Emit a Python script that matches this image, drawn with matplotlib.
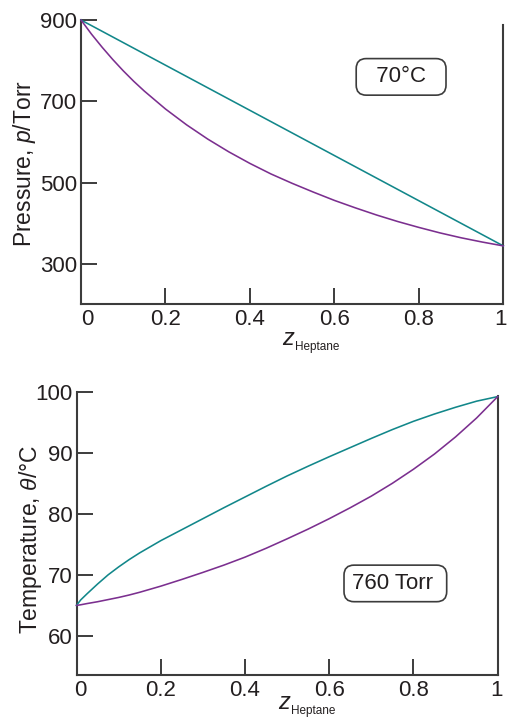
import matplotlib
matplotlib.use("Agg")
import matplotlib.pyplot as plt
from matplotlib.transforms import ScaledTranslation

plt.rcParams['font.family'] = ['Liberation Sans', 'DejaVu Sans']
plt.rcParams['mathtext.fontset'] = 'custom'
plt.rcParams['mathtext.rm'] = 'Liberation Sans'
plt.rcParams['mathtext.it'] = 'Liberation Sans:italic'
plt.rcParams['mathtext.bf'] = 'Liberation Sans:bold'

# ---------------- data ----------------
z = [0.0, 0.01, 0.025, 0.05, 0.075, 0.1, 0.125, 0.15, 0.2, 0.25, 0.3, 0.35,
     0.4, 0.45, 0.5, 0.55, 0.6, 0.65, 0.7, 0.75, 0.8, 0.85, 0.9, 0.95, 1.0]

# top panel: pressure at 70 C
p_liquid = [900, 894.4, 886.1, 872.2, 858.3, 844.4, 830.5, 816.6, 788.8, 761, 733.2, 705.4,
            677.6, 649.8, 622, 594.2, 566.4, 538.6, 510.8, 483, 455.2, 427.4, 399.6, 371.8, 344]
p_vapour = [900, 886, 865, 833, 803, 775, 749, 725, 681, 642, 607, 575.5,
            547, 521, 498, 476.5, 456, 437.5, 420, 404, 389.5, 376, 364, 353.5, 344]

# bottom panel: temperature at 760 Torr
t_vapour = [65.0, 65.9, 66.9, 68.5, 70.0, 71.3, 72.5, 73.6, 75.6, 77.4, 79.2, 81.0,
            82.75, 84.5, 86.2, 87.8, 89.35, 90.85, 92.35, 93.8, 95.15, 96.35, 97.45, 98.45, 99.2]
t_liquid = [65.0, 65.1, 65.3, 65.6, 65.95, 66.3, 66.7, 67.15, 68.15, 69.25, 70.4, 71.6,
            72.9, 74.35, 75.9, 77.5, 79.2, 81.0, 82.9, 85.0, 87.3, 89.8, 92.6, 95.7, 99.2]

x_ticks = [0, 0.2, 0.4, 0.6, 0.8, 1]
x_ticklabels = ['0', '0.2', '0.4', '0.6', '0.8', '1']
p_ticks = [300, 500, 700, 900]
t_ticks = [60, 70, 80, 90, 100]

TEAL = '#12878a'
PURPLE = '#7b2f8f'
AXC = '#3c3c3c'
TXT = '#231f20'

W, H = 507, 718
fig = plt.figure(figsize=(W / 100, H / 100), dpi=100)

ax1 = fig.add_axes([81 / W, 1 - 304 / H, 422.3 / W, 284 / H])
ax2 = fig.add_axes([76.5 / W, 1 - 675 / H, 421.2 / W, 283.3 / H])


def style(ax, ylo, yhi, rtop, yticks):
    ax.set_xlim(0, 1)
    ax.set_ylim(ylo, yhi)
    ax.spines['top'].set_visible(False)
    for s in ['left', 'right', 'bottom']:
        ax.spines[s].set_color(AXC)
        ax.spines[s].set_linewidth(1.5)
    ax.spines['right'].set_bounds(ylo, rtop)
    ax.set_xticks(x_ticks)
    ax.set_xticklabels(x_ticklabels)
    ax.set_yticks(yticks)
    ax.tick_params(axis='both', direction='in', length=11.5, width=1.4,
                   color=AXC, labelsize=16, labelcolor=TXT)
    ax.tick_params(axis='x', pad=3.5)
    ax.tick_params(axis='y', pad=3)
    ax.tick_params(axis='y', which='both', right=False)


style(ax1, 201, 900, 888, p_ticks)
style(ax2, 53.6, 100, 99.3, t_ticks)

# curves
ax1.plot(z, p_liquid, color=TEAL, lw=1.15, clip_on=False, zorder=3)
ax1.plot(z, p_vapour, color=PURPLE, lw=1.15, clip_on=False, zorder=3)
ax2.plot(z, t_vapour, color=TEAL, lw=1.15, clip_on=False, zorder=3)
ax2.plot(z, t_liquid, color=PURPLE, lw=1.15, clip_on=False, zorder=3)

# nudge the end tick labels
for ax, dx0, dx1 in [(ax1, 6, -3), (ax2, 3.5, -1)]:
    labs = ax.get_xticklabels()
    labs[0].set_transform(labs[0].get_transform() + ScaledTranslation(dx0 / 100, 0, fig.dpi_scale_trans))
    labs[-1].set_transform(labs[-1].get_transform() + ScaledTranslation(dx1 / 100, 0, fig.dpi_scale_trans))

# axis labels
ax1.set_ylabel(r'Pressure, $p$/Torr', fontsize=16.5, color=TXT)
ax1.yaxis.set_label_coords(-0.102, 0.493)
ax2.set_ylabel(r'Temperature, $\theta$/°C', fontsize=16.5, color=TXT)
ax2.yaxis.set_label_coords(-0.077, 0.477)

# x labels: italic z with small subscript
for ax, xz, yz, xs, ys in [(ax1, 0.504, -0.144, 0.507, -0.162),
                           (ax2, 0.507, -0.120, 0.509, -0.138)]:
    ax.text(xz, yz, 'z', transform=ax.transAxes, fontsize=17, style='italic',
            color=TXT, ha='right', va='baseline')
    ax.text(xs, ys, 'Heptane', transform=ax.transAxes, fontsize=8.5,
            color=TXT, ha='left', va='baseline')

box = dict(boxstyle='round,pad=0.35,rounding_size=0.45', fc='white', ec=AXC, lw=1.2)
ax1.text(0.758, 760, '  70°C  ', fontsize=16, color=TXT, ha='center', va='center', bbox=box)
ax2.text(0.757, 68.6, '760 Torr ', fontsize=16, color=TXT, ha='center', va='center', bbox=box)

fig.savefig('out.png', dpi=100)
